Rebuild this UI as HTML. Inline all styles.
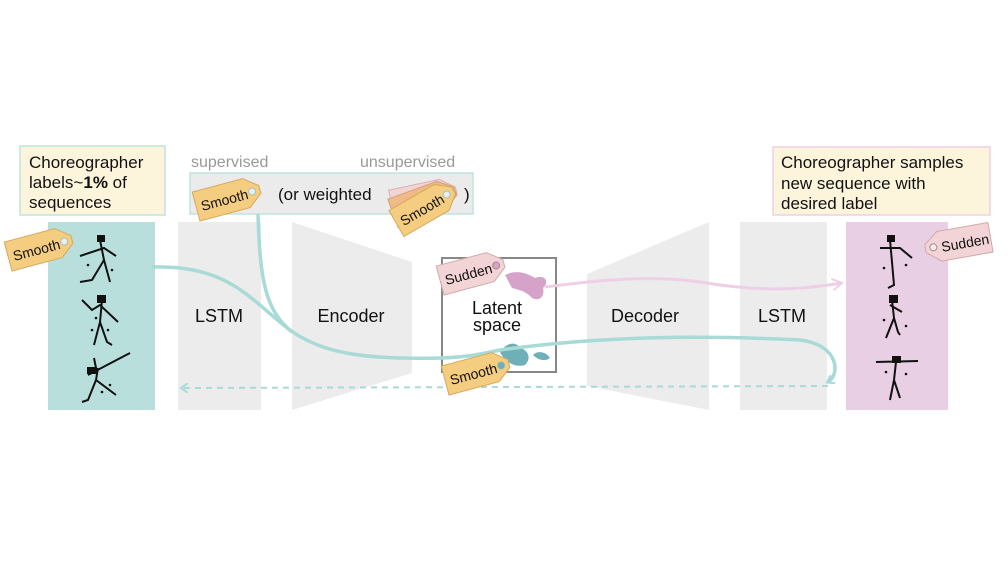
<!DOCTYPE html>
<html><head><meta charset="utf-8"><style>
html,body{margin:0;padding:0;background:#fff;}
svg{display:block;font-family:"Liberation Sans",sans-serif;}
</style></head><body>
<svg width="1008" height="566" viewBox="0 0 1008 566" xmlns="http://www.w3.org/2000/svg">
<defs>
<marker id="ta" markerWidth="10" markerHeight="10" refX="6" refY="5" orient="auto" markerUnits="userSpaceOnUse"><path d="M0,0 L7,5 L0,10" fill="none" stroke="#a8dad6" stroke-width="2"/></marker>
<marker id="pa" markerWidth="14" markerHeight="12" refX="10" refY="6" orient="auto" markerUnits="userSpaceOnUse"><path d="M0,0 L10,6 L0,12" fill="none" stroke="#efcfe6" stroke-width="2"/></marker>
<g id="tagY"><path d="M-33,-15 L19,-15 L33,-4 L33,4 L19,15 L-33,15 Z" fill="#f4cd80" stroke="#d6a95c" stroke-width="1"/><circle cx="25" cy="0" r="3.5" fill="#e7eef0" stroke="#9bb" stroke-width="0.8"/></g>
</defs>
<rect x="20" y="146" width="145" height="69" fill="#fdf4dc" stroke="#bfe3df" stroke-width="1.5"/>
<text font-size="17" fill="#111"><tspan x="29" y="168">Choreographer</tspan><tspan x="29" y="188">labels~<tspan font-weight="bold">1%</tspan> of</tspan><tspan x="29" y="208">sequences</tspan></text>
<rect x="773" y="147" width="217" height="68" fill="#fdf4dc" stroke="#efcfe6" stroke-width="1.5"/>
<text font-size="17" fill="#111"><tspan x="781" y="168">Choreographer samples</tspan><tspan x="781" y="189">new sequence with</tspan><tspan x="781" y="209">desired label</tspan></text>
<text x="191" y="167" font-size="16" fill="#999">supervised</text>
<text x="360" y="167" font-size="16" fill="#999">unsupervised</text>
<rect x="190" y="173" width="283" height="41" fill="#ebebeb" stroke="#bfe3df" stroke-width="1.5"/>
<text x="278" y="200" font-size="17" fill="#111">(or weighted</text>
<text x="464" y="200" font-size="17" fill="#111">)</text>
<rect x="48" y="222" width="107" height="188" fill="#b9dfdc"/>
<rect x="178" y="222" width="83" height="188" fill="#ececec"/>
<polygon points="292,222 412,262 412,373 292,410" fill="#ececec"/>
<polygon points="587,274 709,222 709,410 587,386" fill="#ececec"/>
<rect x="740" y="222" width="87" height="188" fill="#ececec"/>
<rect x="846" y="222" width="102" height="188" fill="#e8cfe3"/>
<rect x="442" y="258" width="114" height="114" fill="#fff" stroke="#888" stroke-width="2"/>
<text x="219" y="322" font-size="18" text-anchor="middle" fill="#111">LSTM</text>
<text x="351" y="322" font-size="18" text-anchor="middle" fill="#111">Encoder</text>
<text x="645" y="322" font-size="18" text-anchor="middle" fill="#111">Decoder</text>
<text x="782" y="322" font-size="18" text-anchor="middle" fill="#111">LSTM</text>
<text x="497" y="314" font-size="18" text-anchor="middle" fill="#111">Latent</text>
<text x="497" y="331" font-size="18" text-anchor="middle" fill="#111">space</text>
<path d="M505,275 C515,270 525,272 535,278 C545,274 550,282 543,288 C545,296 540,302 532,298 C527,292 520,290 512,288 Z" fill="#d7a2c9"/>
<path d="M500,352 C505,344 515,340 520,348 C528,350 532,358 525,365 C515,368 505,362 500,352 Z" fill="#6fb0b8"/>
<path d="M533,355 C538,350 546,352 550,358 C545,362 538,360 533,355 Z" fill="#6fb0b8"/>
<path d="M152,267 C230,265 250,300 290,330 C320,352 360,360 440,358 C470,357 480,354 500,350 C600,336 700,335 800,340 C840,345 840,375 828,382" fill="none" stroke="#a8dad6" stroke-width="3.5" marker-end="url(#ta)"/>
<path d="M258,214 C260,280 265,310 292,332" fill="none" stroke="#a8dad6" stroke-width="3.5"/>
<path d="M828,386 L182,388" fill="none" stroke="#a8dad6" stroke-width="2" stroke-dasharray="6,5" marker-end="url(#ta)"/>
<path d="M545,287 C600,280 650,275 700,282 C760,292 800,290 842,283" fill="none" stroke="#efcfe6" stroke-width="3" marker-end="url(#pa)"/>
<g stroke="#111" stroke-width="2" fill="none">
<path d="M100,240 L104,260 L92,280 L80,282 M104,260 L110,282 M80,256 L104,248 L116,256"/><rect x="98" y="236" width="6" height="5" fill="#111"/>
<path d="M102,300 L100,322 L94,345 M100,322 L107,342 L112,345 M82,300 L92,310 L100,305 L118,322"/><rect x="98" y="296" width="7" height="6" fill="#111"/>
<path d="M98,368 L96,380 L88,400 L82,402 M96,380 L116,395 M88,375 L130,353 M94,358 L96,368"/><rect x="88" y="368" width="8" height="5" fill="#111"/>
<path d="M890,240 L892,262 L894,285 L888,288 M880,248 L900,248 L912,258"/><rect x="888" y="236" width="6" height="5" fill="#111"/>
<path d="M892,300 L894,318 L886,338 M894,318 L898,332 L900,335 M890,305 L902,312"/><rect x="890" y="296" width="7" height="6" fill="#111"/>
<path d="M876,362 L918,361 M896,362 L894,380 L890,400 M894,380 L900,398"/><rect x="893" y="357" width="7" height="5" fill="#111"/>
</g>
<g fill="#111">
<circle cx="88" cy="265" r="1.3"/><circle cx="112" cy="270" r="1.3"/><circle cx="96" cy="318" r="1.3"/><circle cx="92" cy="330" r="1.3"/><circle cx="108" cy="330" r="1.3"/><circle cx="110" cy="385" r="1.3"/><circle cx="102" cy="392" r="1.3"/><circle cx="884" cy="268" r="1.3"/><circle cx="906" cy="265" r="1.3"/><circle cx="884" cy="320" r="1.3"/><circle cx="906" cy="326" r="1.3"/><circle cx="886" cy="372" r="1.3"/><circle cx="906" cy="374" r="1.3"/>
</g>
<g transform="translate(40,248) rotate(-15)"><use href="#tagY"/><text x="-28" y="6" font-size="14" fill="#111">Smooth</text></g>
<g transform="translate(228,198) rotate(-15)"><use href="#tagY"/><text x="-28" y="6" font-size="14" fill="#111">Smooth</text></g>
<g transform="translate(424,198) rotate(-12)"><path d="M-33,-15 L19,-15 L33,-4 L33,4 L19,15 L-33,15 Z" fill="#f2d4d6" stroke="#d8b0b0"/></g>
<g transform="translate(424,202) rotate(-20)"><path d="M-33,-15 L19,-15 L33,-4 L33,4 L19,15 L-33,15 Z" fill="#eebb88" stroke="#d6a070"/></g>
<g transform="translate(425,207) rotate(-30)"><use href="#tagY"/><text x="-28" y="6" font-size="14" fill="#111">Smooth</text></g>
<g transform="translate(472,272) rotate(-15)"><path d="M-33,-15 L19,-15 L33,-4 L33,4 L19,15 L-33,15 Z" fill="#f2d4d6" stroke="#d0aaaa"/><circle cx="25" cy="0" r="3.5" fill="#d7a2c9" stroke="#a88"/><text x="-28" y="6" font-size="14" fill="#111">Sudden</text></g>
<g transform="translate(477,372) rotate(-15)"><use href="#tagY"/><circle cx="25" cy="0" r="3.5" fill="#6fb0b8"/><text x="-28" y="6" font-size="14" fill="#111">Smooth</text></g>
<g transform="translate(958,243) rotate(-10)"><path d="M33,-15 L-19,-15 L-33,-4 L-33,4 L-19,15 L33,15 Z" fill="#f2d4d6" stroke="#d0aaaa"/><circle cx="-25" cy="0" r="3.5" fill="#eee" stroke="#a88"/><text x="-17" y="6" font-size="14" fill="#111">Sudden</text></g>
</svg>
</body></html>
